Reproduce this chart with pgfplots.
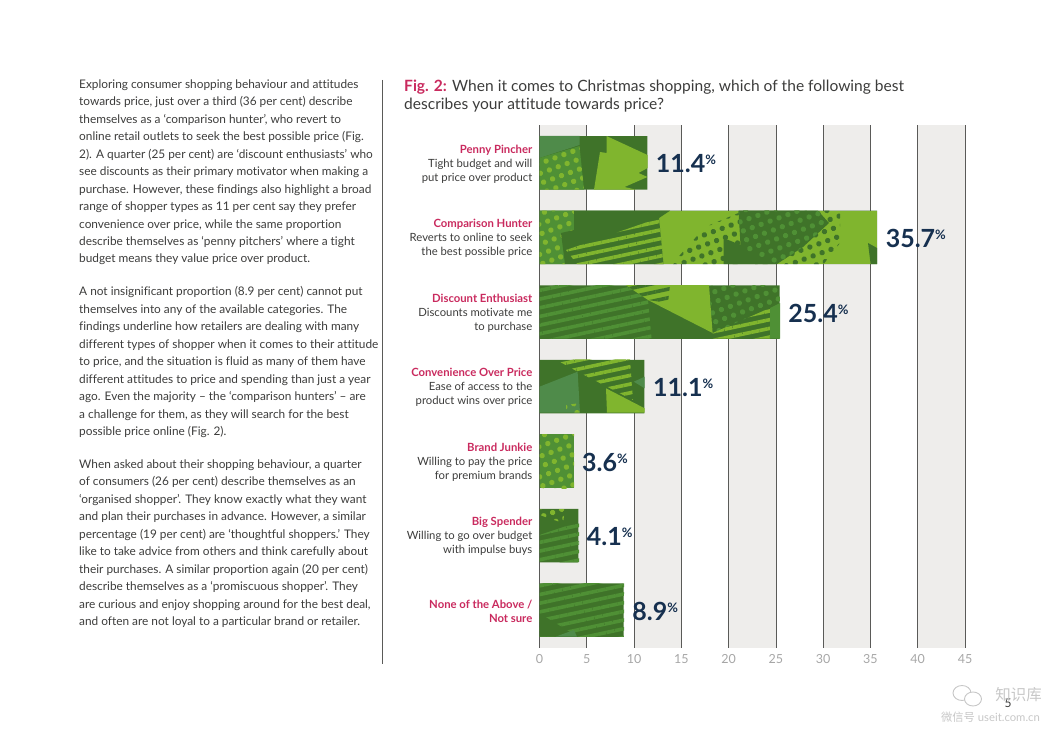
\documentclass[border=0pt]{standalone}
\usepackage{fontspec}
\usepackage{pgfplots}
\pgfplotsset{compat=1.18}
\usetikzlibrary{patterns.meta}
\setmainfont[Ligatures=NoCommon]{Lato}
\newfontfamily\cjk{Noto Sans CJK SC}
\definecolor{bandgray}{HTML}{EEEDEB}
\definecolor{gridc}{HTML}{5A5A58}
\definecolor{catred}{HTML}{C92A5E}
\definecolor{navy}{HTML}{16304F}
\definecolor{bodyc}{HTML}{3C3C3B}
\definecolor{gdark}{HTML}{3F7329}
\definecolor{glight}{HTML}{80B52E}
\definecolor{gmid}{HTML}{4F8B4A}
\definecolor{gdot}{HTML}{4F9035}

% bar decoration polygons, written in reference pixels
\newcommand\deco[2]{\addplot[fill=#1,draw=none,forget plot] coordinates {#2} --cycle;}
\newcommand\decop[3]{\addplot[fill=#1,draw=none,forget plot] coordinates {#3} --cycle;
  \addplot[#2,draw=none,forget plot] coordinates {#3} --cycle;}
\tikzset{
  stp/.style={pattern={Lines[angle=12,distance=8.5,line width=3.6]}},
  dtp/.style={pattern={Dots[distance=9.5,radius=2.7,angle=20]}},
}

\begin{document}
\begin{tikzpicture}
\useasboundingbox (0pt,0pt) rectangle (1052pt,744pt);

\begin{scope}[x=1pt,y=1pt]
% left column
\begin{scope}[every node/.style={anchor=north west,inner sep=0pt,align=left,text=bodyc,
    font=\fontsize{11.85}{17.45}\selectfont}]
\node at (79,744-79.5) {Exploring consumer shopping behaviour and attitudes\\
towards price, just over a third (36 per cent) describe\\
themselves as a ‘comparison hunter’, who revert to\\
online retail outlets to seek the best possible price (Fig.\\
2). A quarter (25 per cent) are ‘discount enthusiasts’ who\\
see discounts as their primary motivator when making a\\
purchase. However, these findings also highlight a broad\\
range of shopper types as 11 per cent say they prefer\\
convenience over price, while the same proportion\\
describe themselves as ‘penny pitchers’ where a tight\\
budget means they value price over product.};
\node at (79,744-286.5) {A not insignificant proportion (8.9 per cent) cannot put\\
themselves into any of the available categories. The\\
findings underline how retailers are dealing with many\\
different types of shopper when it comes to their attitude\\
to price, and the situation is fluid as many of them have\\
different attitudes to price and spending than just a year\\
ago. Even the majority – the ‘comparison hunters’ – are\\
a challenge for them, as they will search for the best\\
possible price online (Fig. 2).};
\node at (79,744-459.5) {When asked about their shopping behaviour, a quarter\\
of consumers (26 per cent) describe themselves as an\\
‘organised shopper’. They know exactly what they want\\
and plan their purchases in advance. However, a similar\\
percentage (19 per cent) are ‘thoughtful shoppers.’ They\\
like to take advice from others and think carefully about\\
their purchases. A similar proportion again (20 per cent)\\
describe themselves as a ‘promiscuous shopper’. They\\
are curious and enjoy shopping around for the best deal,\\
and often are not loyal to a particular brand or retailer.};
\end{scope}
\draw[gridc,line width=0.7pt] (382,744-80) -- (382,744-664);

% title
\node[anchor=north west,inner sep=0pt,align=left,text=bodyc,
  font=\fontsize{15.55}{18}\selectfont] at (404,744-79.5)
  {\textcolor{catred}{\textbf{Fig. 2:}} When it comes to Christmas shopping, which of the following best\\
   describes your attitude towards price?};
\end{scope}

% grey bands
\begin{axis}[
  at={(539.5pt,96pt)}, anchor=south west,
  scale only axis, width=425.5pt, height=523pt,
  hide axis,
  xmin=0, xmax=45, ymin=-0.51, ymax=6.51, y dir=reverse,
]
\addplot[fill=bandgray,draw=none,forget plot] coordinates {(0,-0.51)(5,-0.51)(5,6.51)(0,6.51)} --cycle;
\addplot[fill=bandgray,draw=none,forget plot] coordinates {(10,-0.51)(15,-0.51)(15,6.51)(10,6.51)} --cycle;
\addplot[fill=bandgray,draw=none,forget plot] coordinates {(20,-0.51)(25,-0.51)(25,6.51)(20,6.51)} --cycle;
\addplot[fill=bandgray,draw=none,forget plot] coordinates {(30,-0.51)(35,-0.51)(35,6.51)(30,6.51)} --cycle;
\addplot[fill=bandgray,draw=none,forget plot] coordinates {(40,-0.51)(45,-0.51)(45,6.51)(40,6.51)} --cycle;
\end{axis}

\begin{axis}[
  at={(539.5pt,96pt)}, anchor=south west,
  scale only axis, width=425.5pt, height=523pt,
  clip=false,
  xmin=0, xmax=45, ymin=-0.51, ymax=6.51,
  y dir=reverse,
  xtick={0,5,...,45},
  ytick={0,1,2,3,4,5,6},
  yticklabels={
    {\textcolor{catred}{\textbf{Penny Pincher}}\\Tight budget and will\\put price over product},
    {\textcolor{catred}{\textbf{Comparison Hunter}}\\Reverts to online to seek\\the best possible price},
    {\textcolor{catred}{\textbf{Discount Enthusiast}}\\Discounts motivate me\\to purchase},
    {\textcolor{catred}{\textbf{Convenience Over Price}}\\Ease of access to the\\product wins over price},
    {\textcolor{catred}{\textbf{Brand Junkie}}\\Willing to pay the price\\for premium brands},
    {\textcolor{catred}{\textbf{Big Spender}}\\Willing to go over budget\\with impulse buys},
    {\textcolor{catred}{\textbf{None of the Above /}}\\\textcolor{catred}{\textbf{Not sure}}}},
  yticklabel style={align=right,inner sep=0pt,xshift=-7pt,yshift=-1pt,text=bodyc,
    font=\fontsize{11.3}{14}\selectfont},
  xticklabel style={inner sep=0pt,yshift=-6pt,text=black!35,font=\fontsize{12.5}{14}\selectfont},
  /pgf/number format/assume math mode=true,
  major tick length=0pt,
  axis line style={draw=none},
  xmajorgrids, grid style={gridc,line width=0.7pt},
]
\addplot[xbar,bar width=53.5pt,bar shift=0pt,fill=gdark,draw=none,point meta=x,
  nodes near coords={\pgfmathprintnumber[fixed,fixed zerofill,precision=1]{\pgfplotspointmeta}\raisebox{8pt}{\fontsize{13}{13}\selectfont\bfseries\%}},
  nodes near coords align={horizontal},
  every node near coord/.style={anchor=west,inner sep=0pt,xshift=8.5pt,yshift=-1pt,text=navy,
    font=\fontsize{25}{25}\selectfont\bfseries}]
  coordinates {(11.4,0) (35.7,1) (25.4,2) (11.1,3) (3.6,4) (4.1,5) (8.9,6)};
\end{axis}

% the camouflage inside the bars
\begin{axis}[
  at={(539.5pt,96pt)}, anchor=south west,
  scale only axis, width=425.5pt, height=523pt,
  hide axis,
  xmin=539.5, xmax=965, ymin=125, ymax=648, y dir=reverse,
  /tikz/pattern color=glight,
]
% Penny Pincher
\deco{gmid}{(539.5,136)(579.5,136)(579.5,145)(539.5,158)}
\decop{gdot}{dtp}{(539.5,158)(579.5,146)(584,189.7)(539.5,189.7)}
\deco{glight}{(606.5,136)(647.5,155)(647.5,168)(638.5,173)(647.5,177)(624.5,187)(636,189.7)(594,189.7)(600,152)(606.5,153)}
% Comparison Hunter
\deco{glight}{(539.5,210.7)(877,210.7)(877,264)(539.5,264)}
\decop{gdot}{dtp}{(539.5,210.7)(574,210.7)(574,230)(565,264)(539.5,264)}
\deco{gdark}{(574,210.7)(670,210.7)(659,218)(663.5,264)(565,264)(561,233)(574,230)}
\addplot[stp,draw=none,forget plot] coordinates {(566,250)(659,218)(663.5,264)(577,264)} --cycle;
\addplot[dtp,pattern color=gdark,draw=none,forget plot] coordinates {(738.5,210.7)(840,210.7)(840,243)(823.6,264)(672,264)(705,227)(738.5,213)} --cycle;
\deco{gdark}{(738.5,210.7)(818,210.7)(829,223)(803,247)(777,264)(723.5,264)(723.5,238)(740.5,245)}
\addplot[dtp,pattern color=gdot,draw=none,forget plot] coordinates {(738.5,210.7)(818,210.7)(829,223)(803,247)(777,264)(745,250)(740.5,245)} --cycle;
\deco{gdark}{(868,243)(877,248)(877,264)(870.6,264)}
% Discount Enthusiast
\addplot[stp,pattern color=gdot,draw=none,forget plot] coordinates {(539.5,285)(625.7,285)(648,300)(651.6,338.7)(539.5,338.7)} --cycle;
\deco{glight}{(625.7,285)(709,285)(712.6,333)(648,300)}
\addplot[stp,pattern color=gdark,draw=none,forget plot] coordinates {(625.7,285)(670,285)(668,303)(648,300)} --cycle;
\addplot[dtp,pattern color=gdot,draw=none,forget plot] coordinates {(709,285)(780,285)(780,303)(770,308)(712.6,333)} --cycle;
\addplot[stp,draw=none,forget plot] coordinates {(712.6,333)(770,308)(770,338.7)(712.6,338.7)} --cycle;
\deco{gdot}{(770,308)(780,303)(780,338.7)(770,338.7)}
% Convenience Over Price
\deco{gmid}{(539.5,386.7)(577.6,371.7)(580,412.7)(539.5,412.7)}
\addplot[stp,draw=none,forget plot] coordinates {(555.4,359.4)(630,359.4)(633,400)(577.6,371.7)} --cycle;
\deco{glight}{(606,388.3)(644.6,408.3)(644.6,412.7)(607,412.7)}
\deco{gmid}{(633.8,381.7)(644.6,376.7)(644.6,388.3)}
\addplot[dtp,draw=none,forget plot] coordinates {(566,405)(580,403)(580,412.7)(566,412.7)} --cycle;
% Brand Junkie
\decop{gdot}{dtp}{(539.5,434)(574,434)(574,488)(539.5,488)}
% Big Spender
\addplot[dtp,draw=none,forget plot] coordinates {(539.5,509)(565,509)(563,523)(539.5,515)} --cycle;
\addplot[stp,pattern color=gdot,draw=none,forget plot] coordinates {(539.5,535)(579,521.7)(579,562.3)(539.5,562.3)} --cycle;
% None of the Above
\addplot[stp,pattern color=gdot,draw=none,forget plot] coordinates {(539.5,583)(624,583)(624,636.7)(539.5,636.7)} --cycle;
\deco{gdark}{(539.5,613.3)(577.6,636.7)(539.5,636.7)}
\deco{gmid}{(555.4,636.7)(574,630)(577,636.7)}
\end{axis}

% page number and watermark
\begin{scope}[x=1pt,y=1pt]
\node[inner sep=0pt,text=bodyc,font=\fontsize{12}{12}\selectfont] at (1008,744-703) {5};
\draw[black!22,fill=white,line width=0.9pt] (962,744-693) ellipse (9 and 7.5);
\draw[black!22,fill=white,line width=0.9pt] (973,744-699) ellipse (8.5 and 7);
\node[inner sep=0pt,text=black!22,font=\cjk\fontsize{15.5}{15.5}\selectfont] at (1018.5,744-695) {知识库};
\node[inner sep=0pt,text=black!22,font=\fontsize{11.3}{11.3}\selectfont] at (990.5,744-717) {{\cjk 微信号} useit.com.cn};
\end{scope}
\end{tikzpicture}
\end{document}
